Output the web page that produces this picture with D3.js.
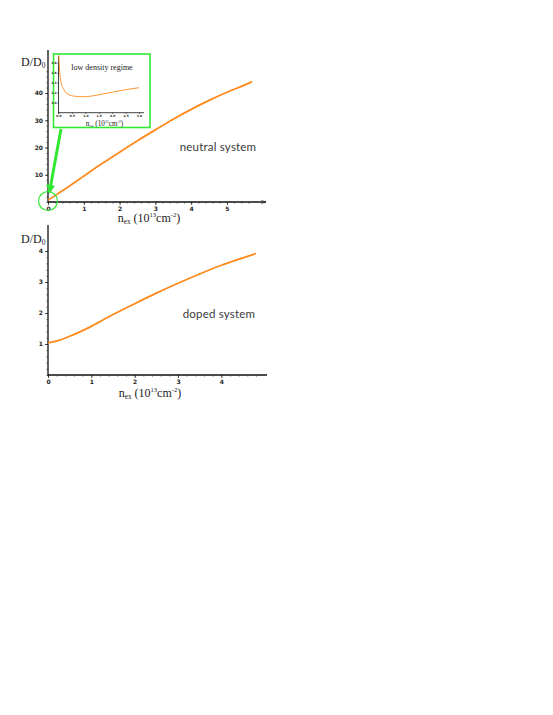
<!DOCTYPE html>
<html>
<head>
<meta charset="utf-8">
<script src="https://cdn.jsdelivr.net/npm/d3@7"></script>
<style>
  body { margin: 0; background: #fff; }
  .tick text { font-family: "DejaVu Sans", sans-serif; font-weight: bold; }
  .serif { font-family: "Liberation Serif", "DejaVu Serif", serif; fill: #222; }
  .note { font-family: "Lato", "Open Sans", sans-serif; fill: #3a3a3a; font-size: 11.5px; letter-spacing: 0.2px; }
</style>
</head>
<body>
<div id="chart"></div>
<script>
// neutral system, n_ex (10^13 cm^-2) vs D/D0
const neutralN = [0, 0.25, 0.5, 1, 1.5, 2, 2.5, 3, 3.5, 4, 4.5, 5, 5.5, 5.7];
const neutralD = [0.6, 2.8, 5.0, 9.5, 14.0, 18.3, 22.5, 26.5, 30.4, 34.0, 37.3, 40.3, 43.0, 44.2];
// low density inset, n_ex (10^11 cm^-2)
const insetN = [0.01, 0.05, 0.1, 0.2, 0.35, 0.6, 0.9, 1.2, 1.6, 2.0, 2.5, 3.0];
const insetD = [1.95, 1.6, 1.4, 1.26, 1.17, 1.13, 1.12, 1.13, 1.17, 1.21, 1.26, 1.3];
// doped system
const dopedN = [0, 0.25, 0.5, 1, 1.5, 2, 2.5, 3, 3.5, 4, 4.5, 4.8];
const dopedD = [1.04, 1.12, 1.25, 1.57, 1.95, 2.3, 2.64, 2.96, 3.26, 3.54, 3.78, 3.92];

const topXTicks = [0, 1, 2, 3, 4, 5];
const topYTicks = [10, 20, 30, 40];
const botXTicks = [0, 1, 2, 3, 4];
const botYTicks = [1, 2, 3, 4];
const insetXTicks = ["0.0", "0.5", "1.0", "1.5", "2.0", "2.5", "3.0"];
const insetYTicks = ["1.0", "1.2", "1.4", "1.6", "1.8"];

const W = 553, H = 715;
const orange = "#ff8a1c", green = "#33e833";

const svg = d3.select("#chart").append("svg")
  .attr("width", W).attr("height", H);

const defs = svg.append("defs");
defs.append("marker").attr("id", "axArrow")
  .attr("viewBox", "0 0 10 10").attr("refX", 10).attr("refY", 5)
  .attr("markerWidth", 6).attr("markerHeight", 5).attr("orient", "auto")
  .attr("markerUnits", "userSpaceOnUse")
  .append("path").attr("d", "M0,1 L10,5 L0,9").attr("fill", "none").attr("stroke", "#222");
defs.append("marker").attr("id", "grArrow")
  .attr("viewBox", "0 0 10 10").attr("refX", 8).attr("refY", 5)
  .attr("markerWidth", 9).attr("markerHeight", 9).attr("orient", "auto")
  .attr("markerUnits", "userSpaceOnUse")
  .append("path").attr("d", "M0,0 L10,5 L0,10 Z").attr("fill", green);

function panel(o) {
  const g = svg.append("g");
  const x = d3.scaleLinear().domain(o.xd).range([o.x0, o.x1]);
  const y = d3.scaleLinear().domain(o.yd).range([o.y0, o.y1]);

  // minor ticks
  g.append("g").attr("transform", `translate(0,${o.y0})`)
    .call(d3.axisBottom(x).tickValues(o.xMinor).tickSize(o.mt).tickFormat(""))
    .call(a => a.select(".domain").remove())
    .selectAll("line").attr("stroke", "#777").attr("stroke-width", 0.6);
  g.append("g").attr("transform", `translate(${o.x0},0)`)
    .call(d3.axisLeft(y).tickValues(o.yMinor).tickSize(o.mt).tickFormat(""))
    .call(a => a.select(".domain").remove())
    .selectAll("line").attr("stroke", "#777").attr("stroke-width", 0.6);

  // major ticks
  const xa = g.append("g").attr("transform", `translate(0,${o.y0})`)
    .call(d3.axisBottom(x).tickValues(o.xTicks).tickSize(o.ts).tickPadding(o.tp).tickFormat(o.xFmt || (d => d)));
  xa.select(".domain").remove();
  xa.selectAll("text").attr("font-size", o.fs).attr("fill", "#222");
  xa.selectAll("line").attr("stroke", "#222").attr("stroke-width", 0.8);
  const ya = g.append("g").attr("transform", `translate(${o.x0},0)`)
    .call(d3.axisLeft(y).tickValues(o.yTicks).tickSize(o.ts).tickPadding(o.tp).tickFormat(o.yFmt || (d => d)));
  ya.select(".domain").remove();
  ya.selectAll("text").attr("font-size", o.fs).attr("fill", "#222");
  ya.selectAll("line").attr("stroke", "#222").attr("stroke-width", 0.8);

  // axis lines
  g.append("line").attr("x1", o.x0).attr("x2", o.xEnd).attr("y1", o.y0).attr("y2", o.y0)
    .attr("stroke", "#111").attr("stroke-width", o.aw)
    .attr("marker-end", o.arrow ? "url(#axArrow)" : null);
  g.append("line").attr("x1", o.x0).attr("x2", o.x0).attr("y1", o.y0 + 1).attr("y2", o.yEnd)
    .attr("stroke", "#111").attr("stroke-width", o.aw);

  // curve
  const line = d3.line().x(d => x(d[0])).y(d => y(d[1])).curve(d3.curveMonotoneX);
  g.append("path").datum(d3.zip(o.xs, o.ys)).attr("d", line)
    .attr("fill", "none").attr("stroke", orange).attr("stroke-width", o.lw);
  return { g, x, y };
}

function xTitle(g, cx, by, fs, exp) {
  const t = g.append("text").attr("class", "serif").attr("x", cx).attr("y", by)
    .attr("text-anchor", "middle").attr("font-size", fs);
  t.append("tspan").text("n");
  t.append("tspan").attr("font-size", fs * 0.6).attr("dy", fs * 0.2).text("ex");
  t.append("tspan").attr("dy", -fs * 0.2).text(" (10");
  t.append("tspan").attr("font-size", fs * 0.55).attr("dy", -fs * 0.4).text(exp);
  t.append("tspan").attr("dy", fs * 0.4).text("cm");
  t.append("tspan").attr("font-size", fs * 0.55).attr("dy", -fs * 0.4).text("-2");
  t.append("tspan").attr("dy", fs * 0.4).text(")");
}
function yTitle(x, by, sub) {
  const t = svg.append("text").attr("class", "serif").attr("x", x).attr("y", by).attr("font-size", 12);
  t.append("tspan").text("D/D");
  t.append("tspan").attr("font-size", 7.5).attr("dy", 2).text(sub);
}

// top: neutral system
panel({
  xd: [0, 5.7], yd: [0, 44.2], x0: 48, x1: 252, y0: 202, y1: 81.6,
  xEnd: 266, yEnd: 50, arrow: true, aw: 1.3, lw: 1.8, fs: 6, ts: 3, tp: 2, mt: 2,
  xTicks: topXTicks, yTicks: topYTicks,
  xMinor: d3.range(0, 29).map(i => i / 5),
  yMinor: d3.range(0, 50, 2),
  xs: neutralN, ys: neutralD
});
xTitle(svg, 149, 222, 12, "13");
yTitle(21, 66, "0");
svg.append("text").attr("class", "note").attr("x", 218).attr("y", 151)
  .attr("text-anchor", "middle").text("neutral system");

// zoom marker
svg.append("circle").attr("cx", 48).attr("cy", 201).attr("r", 9.5)
  .attr("fill", "none").attr("stroke", green).attr("stroke-width", 1.2);
svg.append("line").attr("x1", 61).attr("y1", 129).attr("x2", 49.5).attr("y2", 192)
  .attr("stroke", green).attr("stroke-width", 3).attr("marker-end", "url(#grArrow)");

// inset
svg.append("rect").attr("x", 53.5).attr("y", 54).attr("width", 96.5).attr("height", 73.5)
  .attr("fill", "#fff").attr("stroke", green).attr("stroke-width", 1.6);
panel({
  xd: [0, 3], yd: [0.8, 1.8], x0: 58.5, x1: 139, y0: 112.7, y1: 62.7,
  xEnd: 144, yEnd: 56, arrow: false, aw: 0.8, lw: 0.9, fs: 3, ts: 1, tp: 1, mt: 0,
  xTicks: insetXTicks.map(Number), yTicks: insetYTicks.map(Number),
  xFmt: d3.format(".1f"), yFmt: d3.format(".1f"),
  xMinor: [], yMinor: [],
  xs: insetN, ys: insetD
});
svg.append("text").attr("class", "serif").attr("x", 102).attr("y", 69.5)
  .attr("text-anchor", "middle").attr("font-size", 8).text("low density regime");
xTitle(svg, 104.5, 125.5, 7.2, "11");

// bottom: doped system
panel({
  xd: [0, 4.8], yd: [0, 3.92], x0: 48, x1: 256, y0: 375, y1: 253.5,
  xEnd: 267, yEnd: 225, arrow: false, aw: 1.3, lw: 1.8, fs: 6, ts: 3, tp: 2, mt: 2,
  xTicks: botXTicks, yTicks: botYTicks,
  xMinor: d3.range(0, 25).map(i => i / 5), yMinor: d3.range(0, 21).map(i => i / 5),
  xs: dopedN, ys: dopedD
});
xTitle(svg, 150, 397, 12, "13");
yTitle(21, 243, "0");
svg.append("text").attr("class", "note").attr("x", 219).attr("y", 318)
  .attr("text-anchor", "middle").text("doped system");
</script>
</body>
</html>
